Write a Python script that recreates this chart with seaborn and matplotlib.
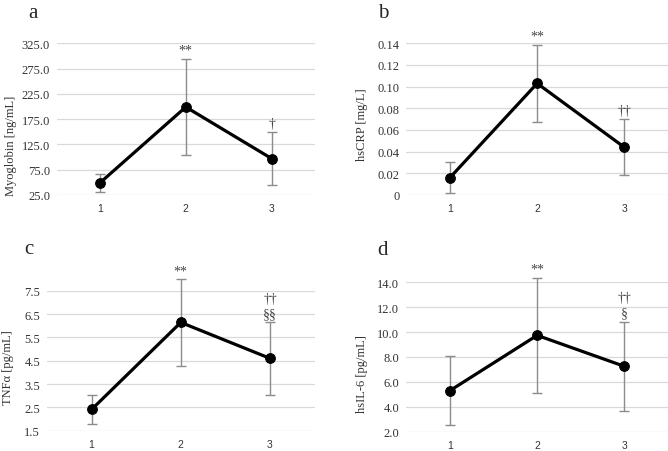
import numpy as np
import pandas as pd
import matplotlib
matplotlib.use("Agg")
import matplotlib.pyplot as plt
import seaborn as sns

# time points
timepoints = ["1", "2", "3"]

# panel a: myoglobin
myo_mean = [49, 199, 97]
myo_sd = [18.5, 95.5, 53]
myo_ticks = [25.0, 75.0, 125.0, 175.0, 225.0, 275.0, 325.0]
myo_marks = ["", "**", "\u2020"]

# panel b: hsCRP
crp_mean = [0.016, 0.103, 0.044]
crp_sd = [0.0145, 0.0355, 0.026]
crp_ticks = [0, 0.02, 0.04, 0.06, 0.08, 0.10, 0.12, 0.14]
crp_marks = ["", "**", "\u2020\u2020"]

# panel c: TNFa
tnf_mean = [2.41, 6.14, 4.60]
tnf_sd = [0.61, 1.85, 1.55]
tnf_ticks = [1.5, 2.5, 3.5, 4.5, 5.5, 6.5, 7.5]
tnf_marks = ["", "**", "\u2020\u2020\n\u00a7\u00a7"]

# panel d: hsIL-6
il6_mean = [5.3, 9.74, 7.25]
il6_sd = [2.75, 4.6, 3.6]
il6_ticks = [2.0, 4.0, 6.0, 8.0, 10.0, 12.0, 14.0]
il6_marks = ["", "**", "\u2020\u2020\n\u00a7"]

sns.set_style("white")
plt.rcParams['font.family'] = ['Liberation Serif', 'DejaVu Serif']

W, H = 668, 452
fig = plt.figure(figsize=(W / 100, H / 100), dpi=100)


def px_axes(x0, x1, ytop, ybot):
    return fig.add_axes([x0 / W, 1 - ybot / H, (x1 - x0) / W, (ybot - ytop) / H])


def draw_panel(ax, letter, letter_xy, mean, sd, ticks, fmt, ylabel, marks, lab_x, lab_y):
    df = pd.DataFrame({"pos": np.arange(len(timepoints)), "mean": mean, "sd": sd})
    ax.errorbar(df["pos"], df["mean"], yerr=df["sd"], fmt="none", ecolor="#8c8c8c",
                elinewidth=1.0, capsize=3.5, capthick=1.0, clip_on=False, zorder=2)
    sns.lineplot(data=df, x="pos", y="mean", ax=ax, color="black", lw=2.3,
                 marker="o", markersize=7, markeredgecolor="black", zorder=3,
                 clip_on=False)
    ax.set_xlim(-0.5, len(timepoints) - 0.5)
    ax.set_ylim(ticks[0], ticks[-1])
    ax.set_yticks(ticks)
    ax.set_yticklabels([fmt.format(t) if t != 0 else "0" for t in ticks],
                       fontsize=9, family="Liberation Serif")
    ax.set_xticks(df["pos"])
    ax.set_xticklabels(timepoints, fontsize=7.5, family="Liberation Sans")
    ax.tick_params(axis="y", length=0, pad=5, colors="#333333")
    ax.tick_params(axis="x", length=0, pad=6, colors="#333333")
    ax.grid(axis="y", color="#d9d9d9", lw=0.9)
    ax.grid(axis="x", visible=False)
    for s in ax.spines.values():
        s.set_visible(False)
    ax.set_xlabel("")
    ax.set_ylabel(ylabel, fontsize=9, color="#333333")
    ax.yaxis.set_label_coords(lab_x, lab_y)
    ax.yaxis.label.set_va("center")
    for p, m, s, mk in zip(df["pos"], mean, sd, marks):
        if mk:
            ax.annotate(mk, xy=(p, m + s), xytext=(0, 1.5), textcoords="offset points",
                        ha="center", va="bottom", fontsize=10, color="#444444",
                        linespacing=1.2, annotation_clip=False)
    fig.text(letter_xy[0] / W, 1 - letter_xy[1] / H, letter, fontsize=15,
             ha="center", va="center")


ax_a = px_axes(57, 314.6, 44.3, 196)
ax_b = px_axes(406.3, 668, 44.3, 196)
ax_c = px_axes(47, 314.6, 291.7, 431.7)
ax_d = px_axes(406.3, 668, 283.3, 432.7)

draw_panel(ax_a, "a", (33, 13), myo_mean, myo_sd, myo_ticks, "{:.1f}",
           "Myoglobin [ng/mL]", myo_marks, -0.18, 0.33)
draw_panel(ax_b, "b", (383, 13), crp_mean, crp_sd, crp_ticks, "{:.2f}",
           "hsCRP [mg/L]", crp_marks, -0.169, 0.47)
draw_panel(ax_c, "c", (29, 250), tnf_mean, tnf_sd, tnf_ticks, "{:.1f}",
           "TNF\u03b1 [pg/mL]", tnf_marks, -0.145, 0.46)
draw_panel(ax_d, "d", (383, 251), il6_mean, il6_sd, il6_ticks, "{:.1f}",
           "hsIL-6 [pg/mL]", il6_marks, -0.169, 0.39)

fig.savefig("out.png", dpi=100)
